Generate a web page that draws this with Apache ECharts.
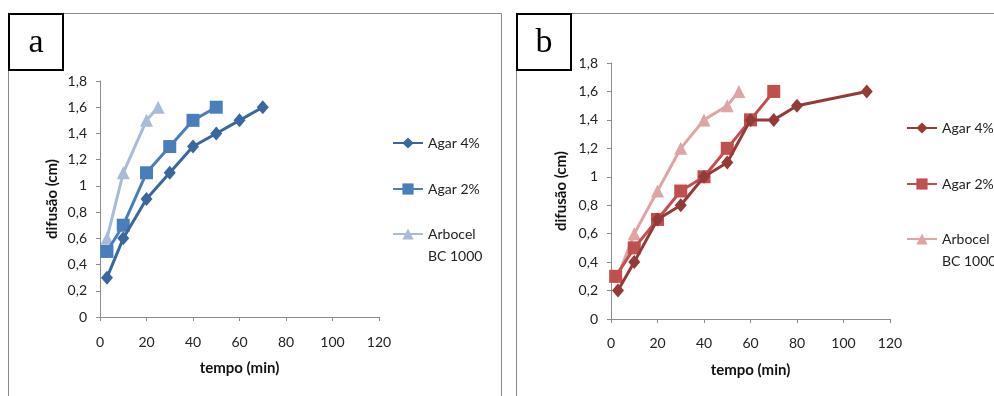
<!DOCTYPE html>
<html>
<head>
<meta charset="utf-8">
<script src="https://cdn.jsdelivr.net/npm/echarts@6/dist/echarts.min.js"></script>
<style>
html, body { margin: 0; padding: 0; background: #fff; }
#container { width: 994px; height: 396px; }
</style>
</head>
<body>
<div id="container"></div>
<script>
let chart = echarts.init(document.getElementById('container'));

// panel a
var a_agar4 = [[3, 0.3], [10, 0.6], [20, 0.9], [30, 1.1], [40, 1.3], [50, 1.4], [60, 1.5], [70, 1.6]];
var a_agar2 = [[3, 0.5], [10, 0.7], [20, 1.1], [30, 1.3], [40, 1.5], [50, 1.6]];
var a_arbocel = [[3, 0.6], [10, 1.1], [20, 1.5], [25, 1.6]];
// panel b
var b_agar4 = [[3, 0.2], [10, 0.4], [20, 0.7], [30, 0.8], [40, 1.0], [50, 1.1], [60, 1.4], [70, 1.4], [80, 1.5], [110, 1.6]];
var b_agar2 = [[2, 0.3], [10, 0.5], [20, 0.7], [30, 0.9], [40, 1.0], [50, 1.2], [60, 1.4], [70, 1.6]];
var b_arbocel = [[3, 0.3], [10, 0.6], [20, 0.9], [30, 1.2], [40, 1.4], [50, 1.5], [55, 1.6]];

var names = ['Agar 4%', 'Agar 2%', 'Arbocel\nBC 1000'];
var colorsA = ['#3A679F', '#4A7EBB', '#A8BBDA'];
var colorsB = ['#963A38', '#C0504D', '#DEA5A4'];
var symbols = ['diamond', 'rect', 'triangle'];
var symbolSizes = [[12, 14], 13, 13];

var FONT = 'Lato';
var axisColor = '#8c8c8c';

function xAxis(idx, labelMargin) {
    return {
        gridIndex: idx, type: 'value', min: 0, max: 120, interval: 20,
        name: 'tempo (min)', nameLocation: 'middle', nameGap: 44,
        nameTextStyle: { fontFamily: FONT, fontWeight: 'bold', fontSize: 15, color: '#111' },
        axisLine: { lineStyle: { color: axisColor } },
        axisTick: { show: true, length: 4, lineStyle: { color: axisColor } },
        axisLabel: { margin: labelMargin, fontFamily: FONT, fontSize: 14, color: '#222' },
        splitLine: { show: false }
    };
}
function yAxis(idx, nameGap) {
    return {
        gridIndex: idx, type: 'value', min: 0, max: 1.8, interval: 0.2,
        name: 'difusão (cm)', nameLocation: 'middle', nameGap: nameGap,
        nameTextStyle: { fontFamily: FONT, fontWeight: 'bold', fontSize: 15, color: '#111' },
        axisLine: { show: true, lineStyle: { color: axisColor } },
        axisTick: { show: true, length: 4, lineStyle: { color: axisColor } },
        axisLabel: {
            margin: 13, fontFamily: FONT, fontSize: 14, color: '#222',
            formatter: v => String(Math.round(v * 10) / 10).replace('.', ',')
        },
        splitLine: { show: false }
    };
}

var series = [];
var panels = [[a_agar4, a_agar2, a_arbocel], [b_agar4, b_agar2, b_arbocel]];
panels.forEach((sets, p) => {
    var colors = p == 0 ? colorsA : colorsB;
    sets.forEach((data, i) => {
        series.push({
            name: names[i] + (p == 0 ? '' : ' '),
            type: 'line',
            xAxisIndex: p, yAxisIndex: p,
            data: data,
            symbol: symbols[i],
            symbolSize: symbolSizes[i],
            showAllSymbol: true,
            animation: false,
            lineStyle: { width: 3, color: colors[i] },
            itemStyle: { color: colors[i] },
            z: 10 - i
        });
    });
});

// one legend per item so the two-line label lines up with its icon
var legends = [];
var legendTops = [[132, 178, 201], [117, 173, 206]];
var legendLefts = [392, 906];
[0, 1].forEach(p => {
    names.forEach((n, i) => {
        legends.push({
            orient: 'vertical',
            left: legendLefts[p], top: legendTops[p][i],
            padding: 0,
            itemWidth: 30, itemHeight: 14,
            selectedMode: false,
            data: [n + (p == 0 ? '' : ' ')],
            textStyle: { fontFamily: FONT, fontSize: 14, color: '#222', lineHeight: 22 },
            // blank first line keeps "Arbocel" level with the icon
            formatter: s => s.indexOf('\n') >= 0 ? ' \n' + s.trim() : s.trim()
        });
    });
});

function labelBox(x, y, txt) {
    return {
        type: 'group', left: x, top: y, z: 100,
        children: [
            { type: 'rect', shape: { x: 0, y: 0, width: 54, height: 56 }, style: { fill: '#fff', stroke: '#000', lineWidth: 2 } },
            { type: 'text', x: 27, y: 29, style: { text: txt, font: '34px "Liberation Serif"', fill: '#000', align: 'center', verticalAlign: 'middle' } }
        ]
    };
}

var option = {
    backgroundColor: '#fff',
    legend: legends,
    grid: [
        { left: 100, right: 615, top: 81, bottom: 79 },
        { left: 611, right: 104, top: 63, bottom: 77 }
    ],
    xAxis: [xAxis(0, 18), xAxis(1, 17)],
    yAxis: [yAxis(0, 40), yAxis(1, 42)],
    series: series,
    graphic: [
        { type: 'polyline', shape: { points: [[8.5, 400], [8.5, 13.5], [501.5, 13.5], [501.5, 400]] }, style: { stroke: '#8a8a8a', lineWidth: 1, fill: null }, silent: true },
        { type: 'polyline', shape: { points: [[516.5, 400], [516.5, 13.5], [1000, 13.5]] }, style: { stroke: '#8a8a8a', lineWidth: 1, fill: null }, silent: true },
        labelBox(8, 13, 'a'),
        labelBox(516, 13, 'b')
    ]
};
chart.setOption(option);
</script>
</body>
</html>
